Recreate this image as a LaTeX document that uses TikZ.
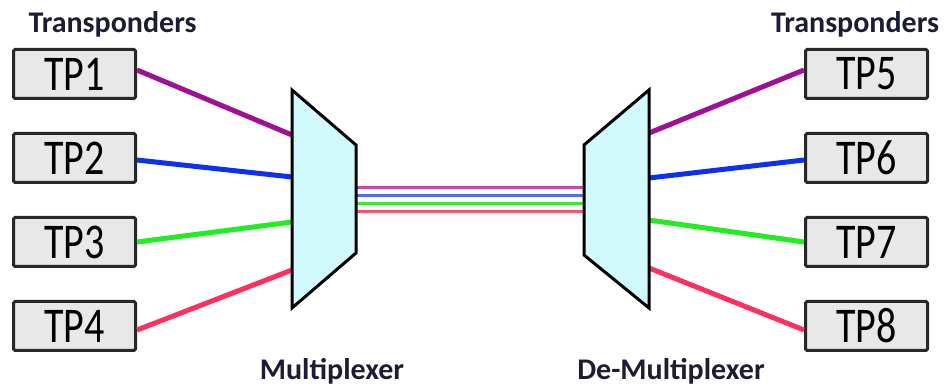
\documentclass[tikz,border=0pt]{standalone}
\usepackage{fontspec}
\setmainfont{Carlito}
\definecolor{lblc}{RGB}{28,28,52}
\definecolor{boxfill}{RGB}{232,232,232}
\definecolor{boxline}{RGB}{40,40,40}
\definecolor{muxfill}{RGB}{210,250,252}
\definecolor{cpur}{RGB}{160,16,150}
\definecolor{cblu}{RGB}{16,48,240}
\definecolor{cgrn}{RGB}{34,236,34}
\definecolor{cred}{RGB}{255,48,96}
\definecolor{mpur}{RGB}{200,70,170}
\definecolor{mblu}{RGB}{80,110,245}
\definecolor{mgrn}{RGB}{60,230,60}
\definecolor{mred}{RGB}{255,80,112}
\tikzset{
  tpbox/.style={draw=boxline, fill=boxfill, line width=3pt, rounded corners=1.5pt,
    minimum width=122pt, minimum height=49pt, inner sep=0pt,
    font=\fontsize{50}{50}\selectfont},
  lbl/.style={text=lblc, font=\fontsize{30}{36}\selectfont\bfseries, anchor=base, inner sep=0pt},
  fibre/.style={line width=5pt},
  trunk/.style={line width=3pt},
  muxshape/.style={draw=black, fill=muxfill, line width=3pt, line join=miter},
}
\newcommand{\tplabel}[1]{\scalebox{0.8}[1]{#1}}
\begin{document}
\begin{tikzpicture}[x=1pt,y=-1pt]
\useasboundingbox (0,0) rectangle (948,387);
% transponder boxes
\node[tpbox] (tp1) at (74.5,74) {\tplabel{TP1}};
\node[tpbox] (tp2) at (74.5,158) {\tplabel{TP2}};
\node[tpbox] (tp3) at (74.5,242) {\tplabel{TP3}};
\node[tpbox] (tp4) at (74.5,326) {\tplabel{TP4}};
\node[tpbox] (tp5) at (866.5,74) {\tplabel{TP5}};
\node[tpbox] (tp6) at (866.5,158) {\tplabel{TP6}};
\node[tpbox] (tp7) at (866.5,242) {\tplabel{TP7}};
\node[tpbox] (tp8) at (866.5,326) {\tplabel{TP8}};
% mux / demux corners
\coordinate (mA) at (292,90);
\coordinate (mB) at (356,145);
\coordinate (mC) at (356,253);
\coordinate (mD) at (292,308);
\coordinate (dA) at (649,90);
\coordinate (dB) at (584,145);
\coordinate (dC) at (584,255);
\coordinate (dD) at (649,308);
% attachment points
\coordinate (m1) at (292,135);
\coordinate (m2) at (292,177);
\coordinate (m3) at (292,222);
\coordinate (m4) at (292,270);
\coordinate (d1) at (649,133);
\coordinate (d2) at (649,178);
\coordinate (d3) at (649,220);
\coordinate (d4) at (649,268);
\coordinate (o1) at (356,188);
\coordinate (o2) at (356,196);
\coordinate (o3) at (356,204);
\coordinate (o4) at (356,212);
\coordinate (i1) at (584,188);
\coordinate (i2) at (584,196);
\coordinate (i3) at (584,204);
\coordinate (i4) at (584,212);
% trunk lines
\draw[trunk, mpur] (o1) -- (i1);
\draw[trunk, mblu] (o2) -- (i2);
\draw[trunk, mgrn] (o3) -- (i3);
\draw[trunk, mred] (o4) -- (i4);
% fibres
\draw[fibre, cpur] ([yshift=4pt]tp1.east) -- (m1);
\draw[fibre, cblu] ([yshift=-2pt]tp2.east) -- (m2);
\draw[fibre, cgrn] (tp3.east) -- (m3);
\draw[fibre, cred] ([yshift=-4pt]tp4.east) -- (m4);
\draw[fibre, cpur] (d1) -- ([yshift=4pt]tp5.east -| tp5.west);
\draw[fibre, cblu] (d2) -- ([yshift=-2pt]tp6.east -| tp6.west);
\draw[fibre, cgrn] (d3) -- (tp7.west);
\draw[fibre, cred] (d4) -- ([yshift=-4pt]tp8.east -| tp8.west);
% mux and demux
\draw[muxshape] (mA) -- (mB) -- (mC) -- (mD) -- cycle;
\draw[muxshape] (dA) -- (dB) -- (dC) -- (dD) -- cycle;
% labels
\node[lbl] (tl) at (112.5,33) {Transponders};
\node[lbl] (tr) at (855,33) {Transponders};
\node[lbl] (ml) at (332,379) {Multiplexer};
\node[lbl] (dl) at (671,379) {De-Multiplexer};
\end{tikzpicture}
\end{document}
